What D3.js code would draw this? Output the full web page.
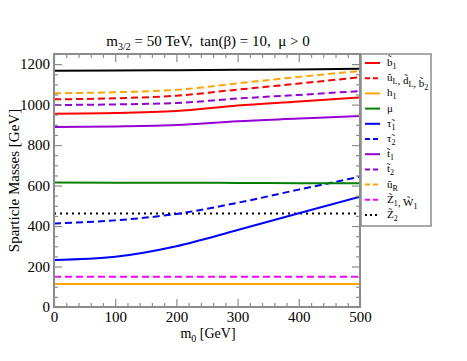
<!DOCTYPE html>
<html>
<head>
<meta charset="utf-8">
<script src="https://cdn.jsdelivr.net/npm/d3@7"></script>
<style>
  body { margin: 0; background: #fff; }
</style>
</head>
<body>
<div id="chart"></div>
<script>
// m0 values (GeV) where the masses were read
const m0 = [0, 100, 200, 300, 400, 500];

// masses in GeV, one array per sparticle
const gluino = [1167, 1168, 1170, 1172, 1174, 1177];
const uR = [1056, 1061, 1073, 1105, 1137, 1166];
const uL = [1026, 1031, 1044, 1074, 1104, 1135];
const t2 = [998, 1001, 1008, 1030, 1048, 1067];
const b1 = [955, 958, 968, 995, 1015, 1036];
const t1 = [889, 892, 899, 918, 931, 944];
const mu = [615, 614, 614, 613, 612, 611];
const tau2 = [413, 428, 460, 515, 580, 644];
const Z2 = [462, 462, 462, 462, 462, 462];
const tau1 = [232, 248, 300, 380, 463, 545];
const Z1W1 = [150, 150, 150, 150, 150, 150];
const h1 = [114, 114, 114, 114, 114, 114];

const xTicks = [0, 100, 200, 300, 400, 500];
const yTicks = [0, 200, 400, 600, 800, 1000, 1200];

// series: values, color, dash, legend label parts (text, subscript)
const series = [
    { v: b1, color: "#ff0000", dash: null, label: [["b\u0303", "1"]] },
    { v: uL, color: "#ff0000", dash: "7,4", label: [["u\u0303", "L"], [", d\u0303", "L"], [", b\u0303", "2"]] },
    { v: h1, color: "#ffa500", dash: null, label: [["h", "1"]] },
    { v: mu, color: "#008000", dash: null, label: [["\u03bc", ""]] },
    { v: tau1, color: "#0000ff", dash: null, label: [["\u03c4\u0303", "1"]] },
    { v: tau2, color: "#0000ff", dash: "7,4", label: [["\u03c4\u0303", "2"]] },
    { v: t1, color: "#9400d3", dash: null, label: [["t\u0303", "1"]] },
    { v: t2, color: "#9400d3", dash: "7,4", label: [["t\u0303", "2"]] },
    { v: uR, color: "#ffa500", dash: "7,4", label: [["u\u0303", "R"]] },
    { v: Z1W1, color: "#ff00ff", dash: "7,4", label: [["Z\u0303", "1"], [", W\u0303", "1"]] },
    { v: Z2, color: "#000000", dash: "2,4", label: [["Z\u0303", "2"]] },
    { v: gluino, color: "#000000", dash: null, label: null }
];

const width = 467, height = 361;
const pLeft = 54, pRight = 360, pTop = 54, pBottom = 307;
const serif = "'Liberation Serif', 'Times New Roman', serif";

const svg = d3.select("#chart").append("svg")
    .attr("width", width)
    .attr("height", height);

const x = d3.scaleLinear().domain([0, 500]).range([pLeft, pRight]);
const y = d3.scaleLinear().domain([0, 1250]).range([pBottom, pTop]);

const frameColor = "#8c8c8c";

// curves
const line = d3.line()
    .x((d, i) => x(m0[i]))
    .y(d => y(d))
    .curve(d3.curveMonotoneX);

const plot = svg.append("g");
plot.append("clipPath").attr("id", "clip")
    .append("rect").attr("x", pLeft).attr("y", pTop)
    .attr("width", pRight - pLeft).attr("height", pBottom - pTop);

plot.selectAll("path.series")
    .data(series.slice().reverse())
    .enter()
    .append("path")
    .attr("class", "series")
    .attr("clip-path", "url(#clip)")
    .attr("d", d => line(d.v))
    .attr("fill", "none")
    .attr("stroke", d => d.color)
    .attr("stroke-width", 2)
    .attr("stroke-dasharray", d => d.dash);

// axes with inward ticks on all four sides
const xMinor = d3.range(0, 501, 20).filter(v => v % 100 !== 0);
const yMinor = d3.range(0, 1251, 50).filter(v => v % 200 !== 0);

function addAxis(axis, tx, ty, labels) {
    const g = svg.append("g").attr("transform", `translate(${tx},${ty})`).call(axis);
    g.select(".domain").remove();
    g.selectAll("line").attr("stroke", frameColor).attr("stroke-width", 1.2);
    if (!labels) g.selectAll("text").remove();
    return g;
}

const xb = addAxis(d3.axisBottom(x).tickValues(xTicks).tickSize(-8).tickPadding(4).tickFormat(d3.format("d")), 0, pBottom, true);
addAxis(d3.axisBottom(x).tickValues(xMinor).tickSize(-4), 0, pBottom, false);
addAxis(d3.axisTop(x).tickValues(xTicks).tickSize(-8), 0, pTop, false);
addAxis(d3.axisTop(x).tickValues(xMinor).tickSize(-4), 0, pTop, false);
const yl = addAxis(d3.axisLeft(y).tickValues(yTicks).tickSize(-8).tickPadding(4).tickFormat(d3.format("d")), pLeft, 0, true);
addAxis(d3.axisLeft(y).tickValues(yMinor).tickSize(-4), pLeft, 0, false);
addAxis(d3.axisRight(y).tickValues(yTicks).tickSize(-8), pRight, 0, false);
addAxis(d3.axisRight(y).tickValues(yMinor).tickSize(-4), pRight, 0, false);

xb.selectAll("text").style("font-size", "15px").style("font-family", serif).attr("fill", "#000");
yl.selectAll("text").style("font-size", "15px").style("font-family", serif).attr("fill", "#000");

// frame
svg.append("rect")
    .attr("x", pLeft).attr("y", pTop)
    .attr("width", pRight - pLeft).attr("height", pBottom - pTop)
    .attr("fill", "none")
    .attr("stroke", frameColor)
    .attr("stroke-width", 2);

// title
const title = svg.append("text")
    .attr("x", 208).attr("y", 46)
    .attr("text-anchor", "middle")
    .style("font-family", serif)
    .style("font-size", "15px")
    .style("white-space", "pre");
title.append("tspan").text("m");
title.append("tspan").attr("dy", 4).style("font-size", "10px").text("3/2");
title.append("tspan").attr("dy", -4).text(" = 50 TeV,  tan(\u03b2) = 10,  \u03bc > 0");

// axis titles
const xt = svg.append("text")
    .attr("x", 208).attr("y", 338)
    .attr("text-anchor", "middle")
    .style("font-family", serif)
    .style("font-size", "14px");
xt.append("tspan").text("m");
xt.append("tspan").attr("dy", 4).style("font-size", "10px").text("0");
xt.append("tspan").attr("dy", -4).text(" [GeV]");

svg.append("text")
    .attr("transform", `translate(19,${(pTop + pBottom) / 2}) rotate(-90)`)
    .attr("text-anchor", "middle")
    .style("font-family", serif)
    .style("font-size", "15px")
    .text("Sparticle Masses [GeV]");

// legend
const legendItems = series.filter(d => d.label);
const legend = svg.append("g");
legend.append("rect")
    .attr("x", 361).attr("y", pTop)
    .attr("width", 70).attr("height", 172)
    .attr("fill", "#fff")
    .attr("stroke", frameColor)
    .attr("stroke-width", 1.5);

const rows = legend.selectAll("g.row")
    .data(legendItems)
    .enter()
    .append("g")
    .attr("class", "row")
    .attr("transform", (d, i) => `translate(0,${63 + i * 15.2})`);

rows.append("line")
    .attr("x1", 365).attr("x2", 380)
    .attr("stroke", d => d.color)
    .attr("stroke-width", 2)
    .attr("stroke-dasharray", d => d.dash ? (d.dash === "2,4" ? "2,3" : "5,3") : null);

rows.append("text")
    .attr("x", 387).attr("y", 3)
    .style("font-family", serif)
    .style("font-size", "11px")
    .each(function(d) {
        const t = d3.select(this);
        d.label.forEach(([main, sub]) => {
            t.append("tspan").text(main);
            if (sub) {
                t.append("tspan").attr("dy", 3).style("font-size", "8px").text(sub);
                t.append("tspan").attr("dy", -3).text("");
            }
        });
    });
</script>
</body>
</html>
